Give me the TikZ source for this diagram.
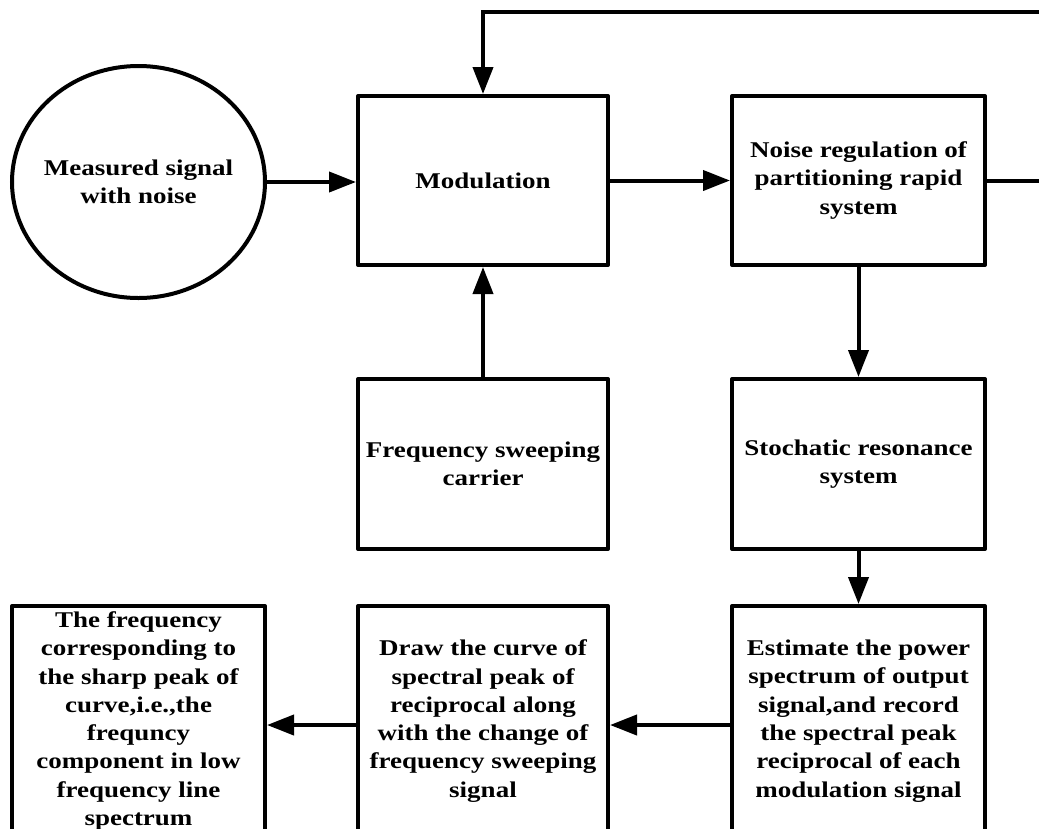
\documentclass[tikz,border=0pt]{standalone}
\usepackage{fontspec}
\setmainfont{Liberation Serif}[FakeStretch=1.2]
\usepackage{tikz}
\usetikzlibrary{shapes.geometric,arrows.meta}

\tikzset{
  blockbox/.style={draw, rectangle, align=center, inner sep=0pt, line join=round},
  flowarrow/.style={-{Triangle[length=27pt,width=20pt]}}
}

\begin{document}
\begin{tikzpicture}[x=1pt, y=-1pt, line width=4pt,
    font=\fontsize{22.5}{28.3}\selectfont\bfseries]
        % Frame of the picture
        \clip (0,0) rectangle (1039,828);

        % Define coordinates
        \coordinate (fbL) at (483,12);
        \coordinate (fbR) at (1060,12);

        % Input signal (oval, text set on top of it)
        \node[draw, ellipse, minimum width=253pt, minimum height=232pt] (signal) at (138.5,182) {};
        \node[align=center] (signaltext) at (signal) {Measured signal\\with noise};

        % Upper row
        \node[blockbox, minimum width=250pt, minimum height=169pt] (mod) at (483,180.5) {Modulation};
        \node[blockbox, minimum width=253pt, minimum height=169pt] (noise) at (858.5,180.5)
            {Noise regulation of\\partitioning rapid\\system};

        % Middle row
        \node[blockbox, minimum width=250pt, minimum height=170pt] (carrier) at (483,464)
            {Frequency sweeping\\carrier};
        \node[blockbox, minimum width=253pt, minimum height=170pt] (stoch) at (858.5,464)
            {Stochatic resonance\\system};

        % Lower row (cut off at the bottom)
        \node[blockbox, minimum width=253pt, minimum height=230pt] (est) at (858.5,721)
            {Estimate the power\\spectrum of output\\signal,and record\\the spectral peak\\reciprocal of each\\modulation signal};
        \node[blockbox, minimum width=250pt, minimum height=230pt] (curve) at (483,721)
            {Draw the curve of\\spectral peak of\\reciprocal along\\with the change of\\frequency sweeping\\signal};
        \node[blockbox, minimum width=253pt, minimum height=230pt] (result) at (138.5,721)
            {The frequency\\corresponding to\\the sharp peak of\\curve,i.e.,the\\frequncy\\component in low\\frequency line\\spectrum};

        % Connectors
        \draw[flowarrow] (signal.east) -- (mod.west |- signal.east);
        \draw[flowarrow] (mod.east) -- (noise.west);
        \draw[flowarrow] (carrier.north) -- (mod.south);
        \draw[flowarrow] (noise.south) -- (stoch.north);
        \draw[flowarrow] (stoch.south) -- (est.north);
        \draw[flowarrow] ([yshift=-4pt]est.west) -- ([yshift=-4pt]curve.east);
        \draw[flowarrow] ([yshift=-4pt]curve.west) -- ([yshift=-4pt]result.east);

        % Feedback loop back to the modulation
        \draw[flowarrow] (noise.east) -| (fbR) -- (fbL) -- (mod.north);
      \end{tikzpicture}
\end{document}
